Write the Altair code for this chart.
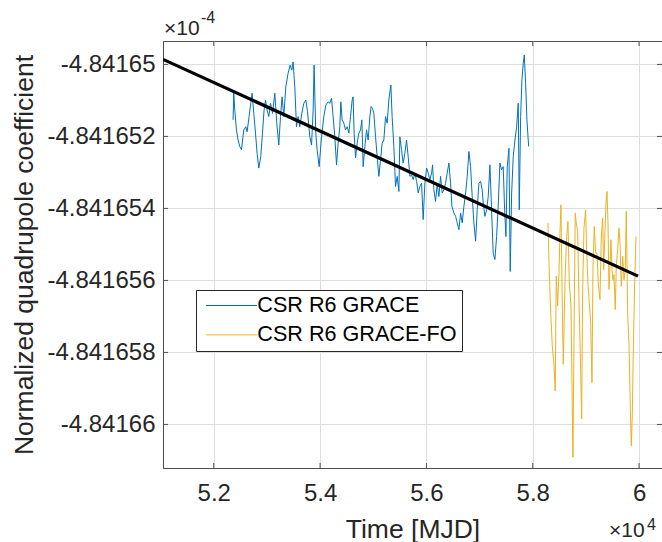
import altair as alt
import pandas as pd

# ---- data (x: MJD, y: deviation from -4.84165e-4 in units of 1e-10) ----
BASE = -4.84165
UNIT = 1e-6   # in the x10^-4 mantissa units

grace_mjd = [52363, 52376, 52395, 52427, 52457, 52489, 52521, 52564, 52602, 52627,
             52664, 52696, 52721, 52753, 52785, 52815, 52847, 52884, 52916, 52946,
             52973, 53003, 53035, 53067, 53105, 53148, 53185, 53223, 53255, 53285,
             53317, 53355, 53398, 53436, 53468, 53492, 53524, 53556, 53586, 53618,
             53656, 53694, 53731, 53763, 53807, 53839, 53869, 53887, 53919, 53944,
             53982, 54027, 54070, 54108, 54151, 54183, 54215, 54245, 54277, 54309,
             54339, 54371, 54390, 54414, 54446, 54478, 54509, 54541, 54572, 54603,
             54621, 54640, 54667, 54697, 54729, 54761, 54785, 54810, 54842, 54874,
             54904, 54936, 54960, 54987, 55011, 55043, 55073, 55105, 55137, 55167,
             55199, 55231, 55261, 55293, 55331, 55355, 55387, 55419, 55450, 55482,
             55500, 55532, 55562, 55594, 55626, 55657, 55689, 55721, 55751, 55783,
             55815, 55845, 55877, 55909, 55939, 55971, 56003, 56033, 56065, 56097,
             56116, 56140, 56172, 56202, 56234, 56266, 56296, 56328, 56360, 56390,
             56423, 56454, 56479, 56517, 56549, 56579, 56611, 56643, 56673, 56705,
             56737, 56767, 56799, 56831, 56861, 56893, 56925, 56955, 56987, 57019,
             57049, 57068, 57100, 57132, 57162, 57194, 57226, 57256, 57288, 57320,
             57350, 57382, 57414, 57444, 57471, 57495, 57520, 57552, 57576, 57603,
             57633, 57665, 57697, 57727, 57746, 57772, 57796, 57821, 57840, 57866,
             57890, 57923]
grace_dev = [-1.54, -0.80, -1.27, -1.82, -2.10, -2.28, -2.37, -1.82, -1.73, -1.87,
             -1.45, -1.08, -0.80, -1.36, -1.91, -2.47, -2.88, -2.56, -1.91, -1.27,
             -0.99, -1.27, -1.45, -1.08, -1.36, -0.80, -1.63, -2.24, -1.45, -0.90,
             -1.45, -0.62, -0.25, -0.02, -0.16, 0.07, -0.62, -1.73, -1.45, -1.73,
             -1.36, -1.08, -0.99, -1.31, -2.01, -2.24, -1.27, -0.02, -1.91, -2.37,
             -2.84, -2.01, -1.45, -1.13, -1.04, -1.08, -0.94, -1.45, -2.01, -2.79,
             -2.19, -1.73, -1.04, -1.54, -1.63, -1.82, -1.73, -1.91, -1.45, -0.99,
             -0.90, -1.91, -2.60, -2.19, -1.91, -1.82, -1.54, -2.84, -2.28, -1.82,
             -2.10, -1.45, -1.17, -1.22, -1.36, -2.01, -2.56, -3.11, -2.65, -2.19,
             -2.10, -1.45, -1.63, -0.99, -0.57, -1.45, -2.28, -3.39, -3.11, -3.53,
             -2.01, -2.37, -2.74, -2.47, -2.10, -2.56, -3.11, -3.07, -3.20, -3.02,
             -3.25, -3.57, -3.39, -3.30, -4.31, -3.30, -2.88, -3.02, -3.20, -3.02,
             -2.79, -3.48, -3.81, -3.30, -3.67, -3.11, -3.57, -3.48, -3.30, -3.02,
             -2.74, -3.30, -3.94, -4.13, -4.22, -4.40, -4.59, -4.13, -4.40, -3.94,
             -3.57, -3.11, -2.42, -2.84, -3.67, -4.40, -4.91, -4.04, -3.30, -3.25,
             -3.48, -3.85, -4.22, -4.04, -3.67, -2.79, -4.04, -5.24, -5.42, -4.78,
             -3.94, -2.74, -2.93, -2.84, -4.04, -4.78, -2.84, -2.33, -5.75, -3.57,
             -2.56, -2.10, -1.73, -1.08, -4.04, -1.45, -0.43, 0.03, 0.26, -0.53,
             -1.54, -2.28]

fo_mjd = [58286, 58305, 58337, 58367, 58399, 58423, 58442, 58468, 58493, 58512,
          58530, 58549, 58574, 58592, 58611, 58638, 58662, 58687, 58719, 58743,
          58756, 58775, 58799, 58818, 58845, 58869, 58894, 58920, 58939, 58963,
          58995, 59014, 59039, 59063, 59089, 59114, 59133, 59157, 59183, 59208,
          59232, 59264, 59289, 59315, 59334, 59353, 59377, 59396, 59415, 59434,
          59453, 59471, 59490, 59509, 59528, 59552, 59571, 59597, 59622, 59641,
          59665, 59692, 59716, 59740, 59759, 59786, 59810, 59835, 59854, 59872,
          59891, 59917, 59942]
fo_dev = [-4.40, -5.51, -6.90, -7.82, -8.33, -9.07, -5.88, -6.71, -5.79, -4.68,
          -3.90, -6.07, -8.33, -7.08, -5.79, -4.78, -4.36, -6.07, -6.71, -9.48,
          -10.91, -7.73, -4.13, -4.40, -4.64, -6.53, -8.01, -9.85, -6.25, -4.54,
          -4.04, -5.14, -6.11, -6.62, -7.17, -8.84, -5.61, -4.50, -5.24, -5.24,
          -6.07, -6.53, -4.82, -4.27, -5.70, -4.87, -3.85, -3.53, -4.40, -6.25,
          -5.61, -4.87, -5.70, -5.98, -5.84, -6.81, -5.61, -5.14, -4.54, -4.96,
          -6.16, -5.33, -5.98, -5.70, -4.08, -6.99, -7.73, -9.58, -10.59, -9.76,
          -8.01, -6.07, -4.78]

trend_mjd = [51045, 59980]
trend_dev = [0.14, -5.88]

x_ticks = [52000, 54000, 56000, 58000, 60000]
y_ticks = [-4.84166, -4.841658, -4.841656, -4.841654, -4.841652, -4.84165]

series_names = ["CSR R6 GRACE", "CSR R6 GRACE-FO"]
series_colors = ["#0072BD", "#EDB120"]

# ---- tables ----
rows = []
for m, d in zip(grace_mjd, grace_dev):
    rows.append({"mjd": m, "val": BASE + d * UNIT, "series": series_names[0], "order": len(rows)})
for m, d in zip(fo_mjd, fo_dev):
    rows.append({"mjd": m, "val": BASE + d * UNIT, "series": series_names[1], "order": len(rows)})
series_df = pd.DataFrame(rows)
trend_df = pd.DataFrame({"mjd": trend_mjd, "val": [BASE + d * UNIT for d in trend_dev]})

W, H = 499, 427
FONT = "Liberation Sans, Arial, Helvetica, sans-serif"
TXT = "#262626"
FRAME = "#4d4d4d"
GRID = "#dedede"

x_scale = alt.Scale(domain=[51045, 60431], nice=False, zero=False)
y_scale = alt.Scale(domain=[-4.84166121, -4.84164935], nice=False, zero=False)

x_axis = alt.Axis(values=x_ticks, labelExpr="format(datum.value/10000, '.1~f')",
                  title="Time [MJD]", grid=True, gridColor=GRID, tickSize=0,
                  labelPadding=13, domainColor=FRAME, labelFont=FONT, labelFontSize=24,
                  labelColor=TXT, titleFont=FONT, titleFontSize=26.5, titleFontWeight="normal",
                  titleColor=TXT, titlePadding=11)
y_axis = alt.Axis(values=y_ticks, labelExpr="replace(format(datum.value, '.7~g'), '\u2212', '-')",
                  title="Normalized quadrupole coefficient", grid=True, gridColor=GRID, tickSize=0,
                  labelPadding=8, domainColor=FRAME, labelFont=FONT, labelFontSize=24,
                  labelColor=TXT, titleFont=FONT, titleFontSize=26.5, titleFontWeight="normal",
                  titleColor=TXT, titlePadding=8)

lines = alt.Chart(series_df).mark_line(strokeWidth=1, clip=True).encode(
    x=alt.X("mjd:Q", scale=x_scale, axis=x_axis),
    y=alt.Y("val:Q", scale=y_scale, axis=y_axis),
    color=alt.Color("series:N", scale=alt.Scale(domain=series_names, range=series_colors),
                    legend=alt.Legend(title=None, orient="none", legendX=33, legendY=249,
                                      symbolType="M-1.1,0H9.1", symbolSize=100,
                                      symbolStrokeWidth=1, labelFont=FONT, labelFontSize=21.6,
                                      labelColor="#000000", labelOffset=35, labelLimit=0,
                                      padding=4.7, rowPadding=6.4, strokeColor="#262626",
                                      fillColor="white", cornerRadius=0)),
    detail="series:N",
    order="order:Q",
)

trend = alt.Chart(trend_df).mark_line(color="#000000", strokeWidth=3.2, clip=True).encode(
    x=alt.X("mjd:Q", scale=x_scale),
    y=alt.Y("val:Q", scale=y_scale),
)

xt_df = pd.DataFrame({"t": x_ticks})
yt_df = pd.DataFrame({"t": y_ticks})
tick_style = dict(color=FRAME, strokeWidth=1)
bottom_ticks = alt.Chart(xt_df).mark_rule(**tick_style).encode(
    x=alt.X("t:Q", scale=x_scale), y=alt.value(H), y2=alt.value(H - 5))
top_ticks = alt.Chart(xt_df).mark_rule(**tick_style).encode(
    x=alt.X("t:Q", scale=x_scale), y=alt.value(0), y2=alt.value(5))
left_ticks = alt.Chart(yt_df).mark_rule(**tick_style).encode(
    y=alt.Y("t:Q", scale=y_scale), x=alt.value(0), x2=alt.value(5))
right_ticks = alt.Chart(yt_df).mark_rule(**tick_style).encode(
    y=alt.Y("t:Q", scale=y_scale), x=alt.value(W), x2=alt.value(W - 5))

exp_df = pd.DataFrame({"a": [0]})
ytimes = alt.Chart(exp_df).mark_text(text="\u00d710", font=FONT, fontSize=21, color=TXT,
                                      align="left", baseline="alphabetic").encode(
    x=alt.value(1), y=alt.value(-6))
ysup = alt.Chart(exp_df).mark_text(text="-4", font=FONT, fontSize=16, color=TXT,
                                    align="left", baseline="alphabetic").encode(
    x=alt.value(38), y=alt.value(-18))
xtimes = alt.Chart(exp_df).mark_text(text="\u00d710", font=FONT, fontSize=21, color=TXT,
                                      align="left", baseline="alphabetic").encode(
    x=alt.value(446), y=alt.value(496))
xsup = alt.Chart(exp_df).mark_text(text="4", font=FONT, fontSize=16, color=TXT,
                                    align="left", baseline="alphabetic").encode(
    x=alt.value(484), y=alt.value(489))

chart = alt.layer(lines, trend, bottom_ticks, top_ticks, left_ticks, right_ticks,
                  ytimes, ysup, xtimes, xsup).properties(
    width=W, height=H,
    autosize=alt.AutoSizeParams(type="none"),
    padding={"left": 163, "top": 41, "right": 0, "bottom": 542 - 41 - H},
    background="white",
).configure_view(stroke=FRAME, strokeWidth=1)

chart.save("out.html", embed_options={"renderer": "svg", "actions": False})
